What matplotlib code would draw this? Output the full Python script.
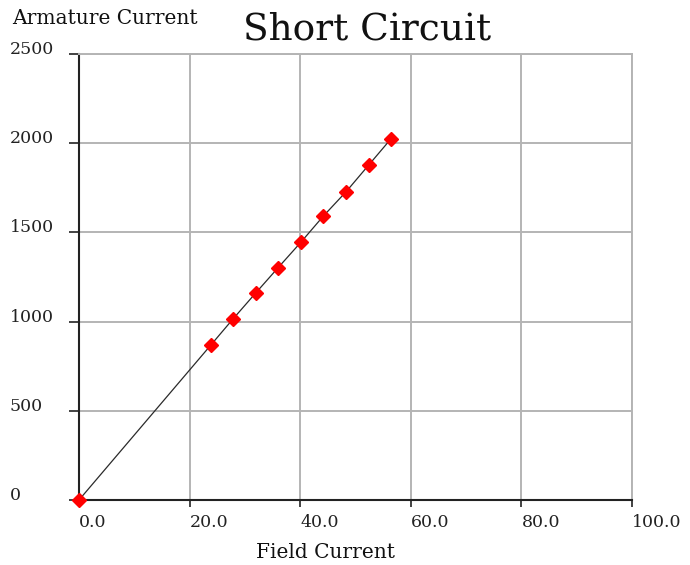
import matplotlib
matplotlib.use("Agg")
import matplotlib.pyplot as plt

# Data
field_current = [0.0, 23.8, 27.8, 32.0, 36.0, 40.1, 44.2, 48.3, 52.4, 56.4]
armature_current = [0, 867, 1013, 1162, 1302, 1444, 1592, 1728, 1878, 2024]

x_ticks = [0, 20, 40, 60, 80, 100]
x_tick_labels = ["0.0", "20.0", "40.0", "60.0", "80.0", "100.0"]
y_ticks = [0, 500, 1000, 1500, 2000, 2500]
y_tick_labels = ["0", "500", "1000", "1500", "2000", "2500"]

title = "Short Circuit"
x_label = "Field Current"
y_label = "Armature Current"

W, H = 690, 565
fig = plt.figure(figsize=(W / 100, H / 100), dpi=100)
ax = fig.add_axes([79 / W, 1 - 500 / H, (632 - 79) / W, (500 - 54) / H])

font = "DejaVu Serif"
grid_color = "#b4b4b4"

ax.plot(field_current, armature_current, color="#2a2a2a", lw=0.9, zorder=3)
ax.plot(field_current, armature_current, linestyle="none", marker="D",
        markersize=7.5, color="#ff0000", markeredgecolor="#ff0000", zorder=4,
        clip_on=False)

ax.set_xlim(0, 100)
ax.set_ylim(0, 2500)
ax.set_xticks(x_ticks)
ax.set_xticklabels(x_tick_labels, fontfamily=font, fontsize=12.5, ha="left")
ax.set_yticks(y_ticks)
ax.set_yticklabels(y_tick_labels, fontfamily=font, fontsize=12.5, ha="left",
                   va="baseline")

ax.tick_params(axis="x", direction="out", length=5, width=1.2, pad=5,
               colors="#222222")
ax.tick_params(axis="y", direction="out", length=7, width=1.2, pad=43,
               colors="#222222")

ax.grid(True, color=grid_color, lw=1.4, zorder=0)
ax.set_axisbelow(True)
for s in ["top", "right"]:
    ax.spines[s].set_color(grid_color)
    ax.spines[s].set_linewidth(1.4)
for s in ["left", "bottom"]:
    ax.spines[s].set_color("#222222")
    ax.spines[s].set_linewidth(1.5)
    ax.spines[s].set_zorder(2.5)

fig.text(367 / W, 1 - 29 / H, title, fontfamily=font, fontsize=27,
         ha="center", va="center", color="#111111")
fig.text(12 / W, 1 - 18 / H, y_label, fontfamily=font, fontsize=14.5,
         ha="left", va="center", color="#111111")
fig.text(325 / W, 1 - 552 / H, x_label, fontfamily=font, fontsize=14.5,
         ha="center", va="center", color="#111111")

fig.savefig("out.png", dpi=100)
